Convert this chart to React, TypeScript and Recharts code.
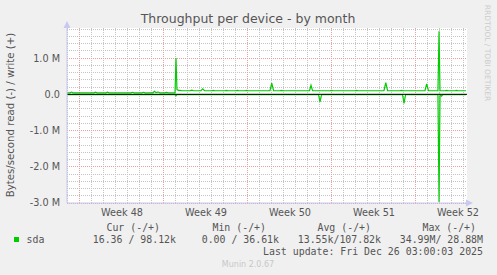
import { LineChart, Line, XAxis, YAxis, CartesianGrid, ReferenceLine } from "recharts";

// x values are days since the start of week 48
const weekLabels = ["Week 48", "Week 49", "Week 50", "Week 51", "Week 52"];
const weekLabelDays = [3.5, 10.5, 17.5, 24.5, 31.5];
const weekStartDays = [0, 7, 14, 21, 28];
const yTicks = [-3e6, -2e6, -1e6, 0, 1e6];

// write (+), in kB/s
const writeTimes = [
  -1.08, -0.83, -0.71, -0.58, 1.17, 1.29, 1.42, 2.17, 2.29, 2.42, 4.25, 4.38, 4.5, 5.17, 5.29, 5.42,
  6.08, 6.21, 6.33, 6.5, 6.67, 7.08, 7.21, 7.33, 7.92, 8.0, 8.08, 8.25, 8.33, 8.5, 9.17, 9.31, 9.46,
  10.08, 10.23, 10.38, 11.0, 11.11, 11.25, 12.08, 12.21, 12.33, 13.0, 13.13, 13.25, 13.75, 13.88, 14.0,
  15.83, 15.98, 16.13, 16.67, 16.79, 16.92, 19.13, 19.25, 19.38, 20.83, 20.96, 21.08, 22.92, 23.04, 23.17,
  25.33, 25.48, 25.63, 26.67, 26.79, 26.92, 28.75, 28.89, 29.04, 29.83, 29.92, 30.0, 30.42, 30.54, 30.67,
  31.25, 31.38, 31.5, 32.17,
];
const writeKB = [
  42, 42, 62, 42, 42, 60, 42, 42, 58, 42, 42, 56, 42, 42, 56, 42,
  42, 85, 48, 62, 42, 42, 55, 42, 42, 1000, 130, 105, 112, 98, 98, 112, 98,
  98, 150, 98, 98, 110, 98, 98, 108, 98, 98, 108, 98, 98, 108, 98,
  98, 310, 98, 98, 108, 98, 98, 250, 98, 98, 108, 98, 98, 108, 98,
  98, 320, 98, 98, 108, 98, 98, 290, 98, 98, 1740, 98, 98, 110, 98,
  98, 110, 98, 98,
];

// read (-), in kB/s
const readTimes = [-1.08, 7.92, 8.0, 8.08, 19.88, 20.0, 20.13, 26.88, 27.0, 27.13, 29.83, 29.92, 30.0, 30.13, 30.25, 32.17];
const readKB = [-8, -8, -40, -8, -8, -210, -8, -8, -250, -8, -8, -2970, -8, -50, -8, -8];

const legendHeaders = ["Cur (-/+)", "Min (-/+)", "Avg (-/+)", "Max (-/+)"];
const legendValues = ["16.36 / 98.12k", "0.00 / 36.61k", "13.55k/107.82k", "34.99M/ 28.88M"];
const headerRight = [160, 266, 371, 476];
const valueRight = [176, 279, 381, 483];

type Row = { t: number; write?: number; read?: number };

const rowMap = new Map<number, Row>();
writeTimes.forEach((t, i) => {
  const r = rowMap.get(t) ?? { t };
  r.write = writeKB[i] * 1000;
  rowMap.set(t, r);
});
readTimes.forEach((t, i) => {
  const r = rowMap.get(t) ?? { t };
  r.read = readKB[i] * 1000;
  rowMap.set(t, r);
});
const data = Array.from(rowMap.values()).sort((a, b) => a.t - b.t);

const minorDays: number[] = [];
for (let d = -1; d <= 32; d++) if (!weekStartDays.includes(d)) minorDays.push(d);
const minorY: number[] = [];
for (let i = -14; i <= 9; i++) if (i % 5 !== 0) minorY.push(i * 200000);

const sans = "'DejaVu Sans', sans-serif";
const mono = "'DejaVu Sans Mono', monospace";
const txt = "#555";

function Abs({ x, y, right, fs, font, color, children, anchor }: any) {
  const style: any = {
    position: "absolute",
    top: y - fs / 2,
    fontSize: fs,
    lineHeight: `${fs}px`,
    fontFamily: font,
    color,
    whiteSpace: "pre",
  };
  if (anchor === "end") style.right = 497 - right;
  else if (anchor === "middle") {
    style.left = x;
    style.transform = "translateX(-50%)";
  } else style.left = x;
  return <div style={style}>{children}</div>;
}

export default function App() {
  return (
    <div
      style={{
        position: "absolute",
        left: 0,
        top: 0,
        width: 497,
        height: 275,
        background: "#f0f0f0",
        overflow: "hidden",
      }}
    >
      <LineChart width={497} height={275} data={data} margin={{ top: 28, right: 30, bottom: 0, left: 0 }}>
        <CartesianGrid fill="#ffffff" horizontal={false} vertical={false} />
        {minorDays.map((d) => (
          <ReferenceLine key={"vx" + d} x={d} stroke="#c4c4c4" strokeDasharray="1 1" shapeRendering="crispEdges" />
        ))}
        {minorY.map((v) => (
          <ReferenceLine key={"hy" + v} y={v} stroke="#c4c4c4" strokeDasharray="1 1" shapeRendering="crispEdges" />
        ))}
        {weekStartDays.map((d) => (
          <ReferenceLine key={"mx" + d} x={d} stroke="#e8a0a0" strokeDasharray="1 1" shapeRendering="crispEdges" />
        ))}
        {yTicks.map((v) => (
          <ReferenceLine key={"my" + v} y={v} stroke="#e8a0a0" strokeDasharray="1 1" shapeRendering="crispEdges" />
        ))}
        <XAxis
          xAxisId="major"
          dataKey="t"
          type="number"
          domain={[-1.083, 32.25]}
          allowDataOverflow
          ticks={weekStartDays}
          tick={false}
          tickSize={3}
          tickLine={{ stroke: "#e08080" }}
          axisLine={false}
          height={0}
        />
        <XAxis
          dataKey="t"
          type="number"
          domain={[-1.083, 32.25]}
          allowDataOverflow
          ticks={weekLabelDays}
          tickFormatter={(v: number) => weekLabels[weekLabelDays.indexOf(v)]}
          tick={{ fontSize: 9.7, fill: txt, fontFamily: sans }}
          tickLine={false}
          tickSize={0}
          tickMargin={6}
          axisLine={{ stroke: "#c8c8f0" }}
          height={72}
          interval={0}
        />
        <YAxis
          type="number"
          domain={[-3e6, 1.83e6]}
          allowDataOverflow
          ticks={yTicks}
          tickFormatter={(v: number) => (v === 0 ? "0.0" : (v / 1e6).toFixed(1) + " M")}
          tick={{ fontSize: 9.7, fill: txt, fontFamily: sans }}
          tickLine={false}
          tickSize={0}
          tickMargin={7}
          axisLine={{ stroke: "#c8c8f0" }}
          width={67}
          interval={0}
        />
        <Line
          dataKey="read"
          type="linear"
          stroke="#00cc00"
          strokeWidth={1.2}
          dot={false}
          connectNulls
          isAnimationActive={false}
        />
        <Line
          dataKey="write"
          type="linear"
          stroke="#00cc00"
          strokeWidth={1.2}
          dot={false}
          connectNulls
          isAnimationActive={false}
        />
        <ReferenceLine y={0} stroke="#000000" strokeWidth={1} />
      </LineChart>

      <svg style={{ position: "absolute", left: 0, top: 0 }} width={497} height={275}>
        <polygon points="63.5,28 67,21 70.5,28" fill="#c8c8f0" />
        <polygon points="466,199.5 473,203 466,206.5" fill="#c8c8f0" />
      </svg>

      <Abs x={248} y={19} fs={12.5} font={sans} color={txt} anchor="middle">
        Throughput per device - by month
      </Abs>
      <div
        style={{
          position: "absolute",
          left: 10,
          top: 115,
          transform: "translate(-50%, -50%) rotate(-90deg)",
          fontSize: 10.2,
          fontFamily: sans,
          color: txt,
          whiteSpace: "pre",
        }}
      >
        Bytes/second read (-) / write (+)
      </div>
      <div
        style={{
          position: "absolute",
          left: 487,
          top: 53,
          transform: "translate(-50%, -50%) rotate(90deg)",
          fontSize: 7.5,
          fontFamily: sans,
          color: "#cccccc",
          whiteSpace: "pre",
        }}
      >
        RRDTOOL / TOBI OETIKER
      </div>

      {legendHeaders.map((h, i) => (
        <Abs key={h} right={headerRight[i]} y={227.5} fs={9.9} font={mono} color={txt} anchor="end">
          {h}
        </Abs>
      ))}
      <div style={{ position: "absolute", left: 14, top: 236.5, width: 5, height: 5, background: "#00cc00" }} />
      <Abs x={26.5} y={239.5} fs={9.9} font={mono} color={txt}>
        sda
      </Abs>
      {legendValues.map((v, i) => (
        <Abs key={v} right={valueRight[i]} y={239.5} fs={9.9} font={mono} color={txt} anchor="end">
          {v}
        </Abs>
      ))}
      <Abs right={483} y={251.5} fs={9.9} font={mono} color={txt} anchor="end">
        Last update: Fri Dec 26 03:00:03 2025
      </Abs>
      <Abs x={248} y={264.5} fs={8} font={sans} color="#c8c8c8" anchor="middle">
        Munin 2.0.67
      </Abs>
    </div>
  );
}
